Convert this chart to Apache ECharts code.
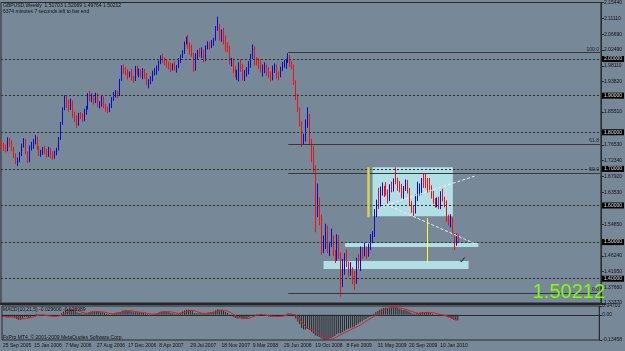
<!DOCTYPE html>
<html>
<head>
<meta charset="utf-8">
<script src="https://cdn.jsdelivr.net/npm/echarts@6/dist/echarts.min.js"></script>
<style>
  html, body { margin: 0; padding: 0; background: #778899; }
  #chart { width: 625px; height: 351px; }
</style>
</head>
<body>
<div id="chart"></div>
<script>
// GBPUSD weekly bars, one per week from 25 Sep 2005: [open, close, low, high]
var weeklyBars = [
  [1.772,1.761,1.756,1.776],[1.761,1.758,1.749,1.772],[1.758,1.753,1.745,1.766],[1.753,1.776,1.748,1.786],
  [1.776,1.772,1.760,1.784],[1.772,1.754,1.748,1.778],[1.754,1.735,1.730,1.760],[1.735,1.722,1.713,1.742],
  [1.722,1.725,1.708,1.731],[1.725,1.741,1.718,1.746],[1.741,1.763,1.735,1.769],[1.763,1.779,1.758,1.784],
  [1.779,1.744,1.740,1.782],[1.744,1.721,1.716,1.748],[1.721,1.759,1.718,1.764],[1.759,1.763,1.750,1.774],
  [1.763,1.776,1.755,1.782],[1.776,1.784,1.767,1.792],[1.784,1.756,1.752,1.788],[1.756,1.741,1.735,1.762],
  [1.741,1.746,1.733,1.752],[1.746,1.752,1.738,1.760],[1.752,1.747,1.740,1.763],[1.747,1.737,1.731,1.754],
  [1.737,1.755,1.733,1.760],[1.755,1.740,1.729,1.758],[1.740,1.737,1.725,1.748],[1.737,1.742,1.728,1.750],
  [1.742,1.753,1.737,1.758],[1.753,1.783,1.750,1.787],[1.783,1.825,1.779,1.828],[1.825,1.864,1.820,1.868],
  [1.864,1.895,1.860,1.901],[1.895,1.881,1.866,1.900],[1.881,1.870,1.856,1.889],[1.870,1.881,1.861,1.892],
  [1.881,1.846,1.840,1.887],[1.846,1.836,1.828,1.856],[1.836,1.823,1.812,1.846],[1.823,1.849,1.818,1.853],
  [1.849,1.846,1.836,1.855],[1.846,1.835,1.828,1.852],[1.835,1.860,1.830,1.864],[1.860,1.867,1.848,1.872],
  [1.867,1.902,1.862,1.907],[1.902,1.893,1.885,1.914],[1.893,1.897,1.882,1.906],[1.897,1.887,1.876,1.901],
  [1.887,1.902,1.880,1.908],[1.902,1.874,1.868,1.906],[1.874,1.876,1.865,1.885],[1.876,1.895,1.870,1.902],
  [1.895,1.870,1.866,1.898],[1.870,1.860,1.856,1.878],[1.860,1.859,1.852,1.870],[1.859,1.874,1.855,1.879],
  [1.874,1.892,1.866,1.896],[1.892,1.904,1.886,1.910],[1.904,1.909,1.895,1.915],[1.909,1.903,1.893,1.914],
  [1.903,1.943,1.899,1.946],[1.943,1.976,1.940,1.983],[1.976,1.970,1.960,1.985],[1.970,1.962,1.955,1.978],
  [1.962,1.957,1.944,1.972],[1.957,1.960,1.950,1.966],[1.960,1.947,1.941,1.973],[1.947,1.944,1.935,1.955],
  [1.944,1.976,1.940,1.981],[1.976,1.962,1.955,1.982],[1.962,1.966,1.950,1.974],[1.966,1.958,1.950,1.972],
  [1.958,1.968,1.945,1.975],[1.968,1.952,1.946,1.973],[1.952,1.934,1.928,1.962],[1.934,1.938,1.920,1.945],
  [1.938,1.946,1.931,1.953],[1.946,1.963,1.939,1.968],[1.963,1.968,1.955,1.975],[1.968,1.974,1.957,1.982],
  [1.974,1.992,1.968,1.996],[1.992,2.000,1.986,2.010],[2.000,1.998,1.990,2.014],[1.998,1.991,1.983,2.004],
  [1.991,1.986,1.976,2.000],[1.986,1.982,1.972,1.993],[1.982,1.976,1.965,1.990],[1.976,1.982,1.969,1.988],
  [1.982,1.975,1.968,1.993],[1.975,1.981,1.963,1.984],[1.981,1.998,1.975,2.002],[1.998,2.008,1.989,2.012],
  [2.008,2.018,2.003,2.024],[2.018,2.044,2.014,2.048],[2.044,2.052,2.040,2.061],[2.052,2.038,2.028,2.066],
  [2.038,2.022,2.012,2.046],[2.022,2.015,2.006,2.039],[2.015,1.972,1.965,2.018],[1.972,2.012,1.968,2.016],
  [2.012,2.019,2.000,2.025],[2.019,2.018,2.006,2.030],[2.018,2.020,2.003,2.032],[2.020,1.997,1.991,2.026],
  [1.997,2.033,1.994,2.037],[2.033,2.042,2.026,2.048],[2.042,2.034,2.026,2.047],[2.034,2.045,2.030,2.052],
  [2.045,2.052,2.036,2.058],[2.052,2.087,2.050,2.090],[2.087,2.093,2.077,2.116],[2.093,2.058,2.050,2.096],
  [2.058,2.070,2.047,2.081],[2.070,2.052,2.040,2.085],[2.052,2.034,2.020,2.064],[2.034,2.031,2.018,2.046],
  [2.031,1.992,1.985,2.037],[1.992,1.992,1.980,2.003],[1.992,1.972,1.962,2.001],[1.972,1.958,1.950,1.980],
  [1.958,1.962,1.943,1.971],[1.962,1.986,1.939,1.991],[1.986,1.972,1.965,1.999],[1.972,1.948,1.941,1.986],
  [1.948,1.963,1.940,1.970],[1.963,1.968,1.952,1.978],[1.968,1.986,1.958,1.994],[1.986,2.008,1.976,2.014],
  [2.008,2.028,2.000,2.040],[2.028,1.995,1.982,2.035],[1.995,1.993,1.982,2.005],[1.993,1.992,1.973,2.002],
  [1.992,1.969,1.963,1.999],[1.969,1.970,1.952,1.985],[1.970,1.980,1.961,1.991],[1.980,1.972,1.954,1.985],
  [1.972,1.958,1.948,1.978],[1.958,1.944,1.939,1.966],[1.944,1.974,1.942,1.982],[1.974,1.977,1.962,1.988],
  [1.977,1.958,1.947,1.985],[1.958,1.956,1.942,1.966],[1.956,1.973,1.950,1.979],[1.973,1.985,1.967,1.992],
  [1.985,1.985,1.977,1.997],[1.985,1.995,1.973,2.001],[1.995,2.008,1.989,2.016],[2.008,1.986,1.978,2.011],
  [1.986,1.980,1.972,1.995],[1.980,1.937,1.929,1.985],[1.937,1.898,1.888,1.942],[1.898,1.859,1.855,1.904],
  [1.859,1.823,1.816,1.868],[1.823,1.776,1.760,1.830],[1.776,1.785,1.768,1.796],[1.785,1.826,1.775,1.835],
  [1.826,1.845,1.812,1.868],[1.845,1.774,1.768,1.850],[1.774,1.728,1.718,1.782],[1.728,1.697,1.690,1.763],
  [1.697,1.614,1.527,1.710],[1.614,1.618,1.568,1.660],[1.618,1.560,1.546,1.622],[1.560,1.478,1.466,1.575],
  [1.478,1.492,1.470,1.518],[1.492,1.536,1.481,1.550],[1.536,1.476,1.470,1.545],[1.476,1.497,1.462,1.501],
  [1.497,1.514,1.487,1.537],[1.514,1.470,1.462,1.518],[1.470,1.454,1.443,1.478],[1.454,1.513,1.449,1.521],
  [1.513,1.466,1.455,1.519],[1.466,1.383,1.351,1.472],[1.383,1.449,1.377,1.454],[1.449,1.459,1.411,1.470],
  [1.459,1.440,1.432,1.480],[1.440,1.418,1.405,1.447],[1.418,1.424,1.408,1.445],[1.424,1.407,1.385,1.431],
  [1.407,1.392,1.370,1.421],[1.392,1.450,1.386,1.457],[1.450,1.443,1.427,1.467],[1.443,1.478,1.421,1.488],
  [1.478,1.469,1.455,1.487],[1.469,1.482,1.461,1.498],[1.482,1.468,1.454,1.488],[1.468,1.484,1.460,1.496],
  [1.484,1.512,1.478,1.522],[1.512,1.520,1.497,1.530],[1.520,1.576,1.514,1.590],[1.576,1.613,1.568,1.616],
  [1.613,1.602,1.590,1.648],[1.602,1.646,1.597,1.652],[1.646,1.650,1.627,1.663],[1.650,1.649,1.623,1.654],
  [1.649,1.633,1.627,1.664],[1.633,1.619,1.605,1.644],[1.619,1.654,1.612,1.658],[1.654,1.645,1.636,1.665],
  [1.645,1.670,1.638,1.674],[1.670,1.666,1.658,1.704],[1.666,1.652,1.640,1.676],[1.652,1.650,1.636,1.667],
  [1.650,1.632,1.620,1.659],[1.632,1.646,1.617,1.653],[1.646,1.663,1.640,1.671],[1.663,1.641,1.633,1.670],
  [1.641,1.603,1.598,1.648],[1.603,1.593,1.580,1.612],[1.593,1.586,1.571,1.600],[1.586,1.618,1.578,1.630],
  [1.618,1.640,1.612,1.665],[1.640,1.647,1.627,1.660],[1.647,1.670,1.630,1.675],[1.670,1.666,1.648,1.686],
  [1.666,1.654,1.647,1.688],[1.654,1.652,1.635,1.675],[1.652,1.646,1.637,1.675],[1.646,1.628,1.619,1.655],
  [1.628,1.612,1.605,1.640],[1.612,1.601,1.594,1.620],[1.601,1.615,1.595,1.622],[1.615,1.595,1.590,1.624],
  [1.595,1.632,1.590,1.639],[1.632,1.615,1.611,1.646],[1.615,1.597,1.595,1.624],[1.597,1.561,1.556,1.614],
  [1.561,1.560,1.545,1.575],[1.560,1.563,1.540,1.576],[1.563,1.524,1.521,1.567],[1.524,1.503,1.478,1.525],
  [1.503,1.517,1.490,1.523],[1.51703,1.50212,1.49764,1.52069]
];

// MACD(10,21,5) main (histogram) and signal, one value per week
var macdMain = [
  -0.010,-0.012,-0.015,-0.013,-0.010,-0.011,-0.016,-0.022,-0.026,-0.026,
  -0.020,-0.012,-0.012,-0.017,-0.012,-0.006,-0.001,0.005,0.003,-0.002,
  -0.004,-0.005,-0.006,-0.008,-0.007,-0.008,-0.009,-0.009,-0.007,0.000,
  0.008,0.018,0.027,0.031,0.032,0.031,0.026,0.020,0.013,0.010,
  0.008,0.006,0.007,0.008,0.013,0.017,0.019,0.019,0.019,0.016,
  0.013,0.013,0.010,0.006,0.003,0.002,0.004,0.008,0.012,0.013,
  0.015,0.021,0.024,0.024,0.022,0.020,0.017,0.014,0.014,0.013,
  0.012,0.010,0.010,0.007,0.003,0.001,0.001,0.003,0.006,0.009,
  0.013,0.017,0.019,0.019,0.017,0.014,0.010,0.008,0.006,0.005,
  0.008,0.012,0.017,0.023,0.027,0.027,0.024,0.020,0.010,0.008,
  0.008,0.008,0.008,0.005,0.008,0.012,0.013,0.015,0.017,0.024,
  0.029,0.027,0.026,0.022,0.016,0.011,0.003,-0.004,-0.011,-0.017,
  -0.020,-0.019,-0.019,-0.022,-0.021,-0.018,-0.013,-0.006,0.002,0.003,
  0.003,0.002,-0.001,-0.004,-0.004,-0.005,-0.008,-0.012,-0.010,-0.008,
  -0.009,-0.010,-0.008,-0.004,-0.001,0.003,0.008,0.007,0.004,-0.006,
  -0.020,-0.036,-0.051,-0.070,-0.078,-0.078,-0.074,-0.080,-0.090,-0.100,
  -0.110,-0.115,-0.118,-0.125,-0.130,-0.133,-0.1346,-0.131,-0.124,-0.118,
  -0.113,-0.104,-0.098,-0.098,-0.092,-0.085,-0.079,-0.075,-0.070,-0.067,
  -0.064,-0.055,-0.048,-0.040,-0.034,-0.027,-0.022,-0.016,-0.010,-0.004,
  0.004,0.013,0.020,0.027,0.032,0.036,0.038,0.037,0.038,0.039,
  0.040,0.039,0.036,0.033,0.029,0.026,0.025,0.022,0.017,0.011,
  0.006,0.006,0.008,0.010,0.013,0.015,0.015,0.014,0.013,0.010,
  0.006,0.002,0.001,-0.002,0.000,0.001,-0.002,-0.009,-0.014,-0.017,
  -0.022,-0.028,-0.029,-0.0296
];
var macdSignal = [
  -0.008,-0.009,-0.011,-0.012,-0.012,-0.012,-0.013,-0.014,-0.017,-0.020,
  -0.022,-0.021,-0.019,-0.017,-0.015,-0.012,-0.010,-0.006,-0.002,0.000,
  0.000,-0.001,-0.003,-0.005,-0.006,-0.007,-0.008,-0.008,-0.008,-0.006,
  -0.003,0.002,0.009,0.017,0.023,0.028,0.029,0.028,0.024,0.020,
  0.015,0.011,0.009,0.008,0.008,0.010,0.013,0.015,0.017,0.018,
  0.017,0.016,0.014,0.012,0.009,0.007,0.005,0.005,0.006,0.008,
  0.010,0.014,0.017,0.019,0.021,0.022,0.022,0.019,0.017,0.016,
  0.014,0.013,0.012,0.010,0.008,0.006,0.004,0.003,0.003,0.004,
  0.006,0.010,0.013,0.015,0.017,0.017,0.016,0.014,0.011,0.009,
  0.007,0.008,0.010,0.013,0.017,0.021,0.024,0.024,0.022,0.018,
  0.014,0.011,0.008,0.007,0.007,0.008,0.009,0.011,0.013,0.016,
  0.019,0.022,0.025,0.026,0.024,0.021,0.016,0.010,0.003,-0.004,
  -0.010,-0.014,-0.017,-0.019,-0.020,-0.020,-0.019,-0.016,-0.011,-0.006,
  -0.002,0.001,0.002,0.001,-0.001,-0.002,-0.004,-0.007,-0.008,-0.009,
  -0.009,-0.010,-0.009,-0.008,-0.006,-0.004,0.000,0.003,0.004,0.003,
  -0.001,-0.010,-0.022,-0.037,-0.051,-0.063,-0.070,-0.076,-0.080,-0.084,
  -0.090,-0.099,-0.107,-0.114,-0.120,-0.124,-0.128,-0.131,-0.131,-0.128,
  -0.124,-0.118,-0.111,-0.106,-0.101,-0.095,-0.090,-0.086,-0.080,-0.075,
  -0.071,-0.066,-0.061,-0.055,-0.049,-0.041,-0.035,-0.028,-0.022,-0.016,
  -0.010,-0.003,0.005,0.012,0.019,0.026,0.031,0.034,0.036,0.038,
  0.038,0.039,0.038,0.037,0.035,0.033,0.030,0.027,0.024,0.020,
  0.016,0.012,0.010,0.008,0.009,0.010,0.012,0.013,0.014,0.013,
  0.012,0.010,0.007,0.004,0.002,0.000,0.000,-0.004,-0.008,-0.012,
  -0.017,-0.022,-0.026,-0.029
];

var tickLabels = ['25 Sep 2005','15 Jan 2006','7 May 2006','27 Aug 2006','17 Dec 2006','8 Apr 2007',
  '29 Jul 2007','18 Nov 2007','9 Mar 2008','29 Jun 2008','19 Oct 2008','8 Feb 2009','31 May 2009',
  '20 Sep 2009','10 Jan 2010'];
var priceLabels = [2.15440,2.11110,2.06690,2.02490,1.98110,1.93820,1.85510,1.76530,1.72340,1.67920,
  1.63530,1.54850,1.46240,1.41950,1.37660,1.33370];
var macdLabels = [0.04703, 0, -0.13458];
var roundLevels = [2.0, 1.9, 1.8, 1.7, 1.6, 1.5, 1.4];
var fibNames = ['100.0', '61.8', '50.0', '0.0'];
var fibPrices = [2.0172, 1.7670, 1.6892, 1.3612];
var fibStartWeek = 146;
// drawn objects, [week, price] corners
var boxes = [[189, 1.7045, 230, 1.5709], [175, 1.4973, 243, 1.4864], [164, 1.4482, 238, 1.4264]];
var whiteLines = [[196, 1.601, 241, 1.680], [198, 1.598, 242, 1.494]];
var yellowLines = [[187, 1.7045, 187, 1.568], [217, 1.5655, 217, 1.4427]];
var checkMark = [235, 1.448];

var slots = 306; // weeks plus the empty shift on the right
var cats = [];
for (var i = 0; i < slots; i++) cats.push(String(i));

var font = '"Liberation Sans", Arial, sans-serif';
var myChart = echarts.init(document.getElementById('chart'));

var option = {
  backgroundColor: '#778899',
  animation: false,
  grid: [
    { left: 1, right: 19, top: 2, height: 301, show: true, borderColor: '#2a2a2a', borderWidth: 1 },
    { left: 1, right: 19, top: 306, height: 34, show: true, borderColor: '#2a2a2a', borderWidth: 1 }
  ],
  xAxis: [
    { gridIndex: 0, type: 'category', data: cats, show: false },
    {
      gridIndex: 1, type: 'category', data: cats,
      axisLine: { lineStyle: { color: '#2a2a2a' } },
      axisTick: {
        length: 3, lineStyle: { color: '#2a2a2a' },
        interval: function (idx) { return idx % 16 === 0 && idx / 16 < tickLabels.length }
      },
      axisLabel: {
        fontSize: 5, color: '#111', fontFamily: font, margin: 3, align: 'left',
        interval: function (idx) { return idx % 16 === 0 && idx / 16 < tickLabels.length },
        formatter: function (v, idx) { return tickLabels[idx / 16] || '' }
      }
    }
  ],
  yAxis: [
    {
      gridIndex: 0, type: 'value', position: 'right', min: 1.3337, max: 2.1544,
      splitLine: { show: false },
      axisLine: { show: true, lineStyle: { color: '#2a2a2a' } },
      axisTick: { show: true, length: 3, customValues: priceLabels, lineStyle: { color: '#2a2a2a' } },
      axisLabel: {
        customValues: priceLabels, fontSize: 5, color: '#111', fontFamily: font, margin: 3,
        formatter: function (v) { return v.toFixed(5) }
      }
    },
    {
      gridIndex: 1, type: 'value', position: 'right', min: -0.13458, max: 0.04703,
      splitLine: { show: false },
      axisLine: { show: true, lineStyle: { color: '#2a2a2a' } },
      axisTick: { show: true, length: 3, customValues: macdLabels, lineStyle: { color: '#2a2a2a' } },
      axisLabel: {
        customValues: macdLabels, fontSize: 5, color: '#111', fontFamily: font, margin: 3,
        formatter: function (v) { return v === 0 ? '0.00' : v.toFixed(5) }
      }
    }
  ],
  series: [
    {
      name: 'boxes', type: 'line', data: [], xAxisIndex: 0, yAxisIndex: 0, z: 1,
      markArea: {
        silent: true,
        itemStyle: { color: '#b0e0e6' },
        data: boxes.map(function (b) { return [{ coord: [b[0], b[1]] }, { coord: [b[2], b[3]] }] })
      }
    },
    {
      name: 'levels', type: 'line', data: [], xAxisIndex: 0, yAxisIndex: 0, z: 2,
      markLine: {
        silent: true, symbol: ['none', 'none'],
        lineStyle: { color: '#2e2e2e', type: [2, 2], width: 1 },
        label: {
          position: 'end', distance: 1, fontSize: 5, fontFamily: font, color: '#e0e0e0',
          backgroundColor: '#000', padding: [1, 2, 0, 2],
          formatter: function (p) { return p.value.toFixed(5) }
        },
        data: roundLevels.map(function (v) { return { yAxis: v } })
      }
    },
    {
      name: 'fibo', type: 'line', data: [], xAxisIndex: 0, yAxisIndex: 0, z: 2,
      markLine: {
        silent: true, symbol: ['none', 'none'],
        lineStyle: { color: '#383838', type: 'solid', width: 1 },
        label: {
          position: 'insideEndTop', distance: 1, fontSize: 5, fontFamily: font, color: '#222',
          formatter: function (p) { return p.name }
        },
        data: fibPrices.map(function (v, k) {
          return [{ name: fibNames[k], coord: [fibStartWeek, v] }, { coord: [slots - 1, v] }]
        })
      }
    },
    {
      name: 'GBPUSD', type: 'candlestick', xAxisIndex: 0, yAxisIndex: 0, z: 3,
      barWidth: 1.2,
      itemStyle: {
        color: '#0a0ac8', color0: '#f01010',
        borderColor: '#0a0ac8', borderColor0: '#f01010', borderWidth: 1
      },
      data: weeklyBars
    },
    {
      name: 'objects', type: 'line', data: [], xAxisIndex: 0, yAxisIndex: 0, z: 4,
      markLine: {
        silent: true, symbol: ['none', 'none'], label: { show: false },
        data: whiteLines.map(function (l) {
          return [{ coord: [l[0], l[1]], lineStyle: { color: '#eef2f4', type: [3, 2], width: 1 } },
                  { coord: [l[2], l[3]] }]
        }).concat([
          [{ coord: [yellowLines[0][0], yellowLines[0][1]], lineStyle: { color: '#d6d64c', type: 'solid', width: 2.5 } },
           { coord: [yellowLines[0][2], yellowLines[0][3]] }],
          [{ coord: [yellowLines[1][0], yellowLines[1][1]], lineStyle: { color: '#ffff33', type: 'solid', width: 1 } },
           { coord: [yellowLines[1][2], yellowLines[1][3]] }]
        ])
      },
      markPoint: {
        silent: true, symbol: 'circle', symbolSize: 1,
        itemStyle: { color: 'rgba(0,0,0,0)' },
        label: { show: true, position: 'inside', formatter: '\u2713', fontSize: 9, color: '#111', fontFamily: 'DejaVu Sans' },
        data: [{ coord: checkMark }]
      }
    },
    {
      name: 'MACD', type: 'bar', xAxisIndex: 1, yAxisIndex: 1, barWidth: 1,
      itemStyle: { color: '#262626' }, data: macdMain
    },
    {
      name: 'Signal', type: 'line', xAxisIndex: 1, yAxisIndex: 1, showSymbol: false, z: 4,
      lineStyle: { color: '#e01e1e', width: 1 }, data: macdSignal
    }
  ],
  graphic: [
    { type: 'rect', shape: { x: 0, y: 303, width: 606, height: 2 }, style: { fill: '#262626' }, z: 10 },
    { type: 'text', x: 3, y: 3, z: 10,
      style: { text: 'GBPUSD,Weekly  1.51703 1.52069 1.49764 1.50212', fontSize: 5, fontFamily: font, fill: '#111' } },
    { type: 'text', x: 3, y: 9, z: 10,
      style: { text: '6374 minutes 7 seconds left to bar end', fontSize: 5, fontFamily: font, fill: '#111' } },
    { type: 'text', x: 3, y: 307.5, z: 10,
      style: { text: 'MACD(10,21,5) -0.029600 -0.028989', fontSize: 5, fontFamily: font, fill: '#111' } },
    { type: 'text', x: 3, y: 335.5, z: 10,
      style: { text: 'FxPro MT4, \u00a9 2001-2009 MetaQuotes Software Corp.', fontSize: 5, fontFamily: font, fill: '#111' } },
    { type: 'text', x: 605, y: 302, z: 20,
      style: { text: '1.50212', fontSize: 20, fontFamily: font, fill: '#7fff00', align: 'right', verticalAlign: 'bottom' } }
  ]
};

myChart.setOption(option, true);
</script>
</body>
</html>
